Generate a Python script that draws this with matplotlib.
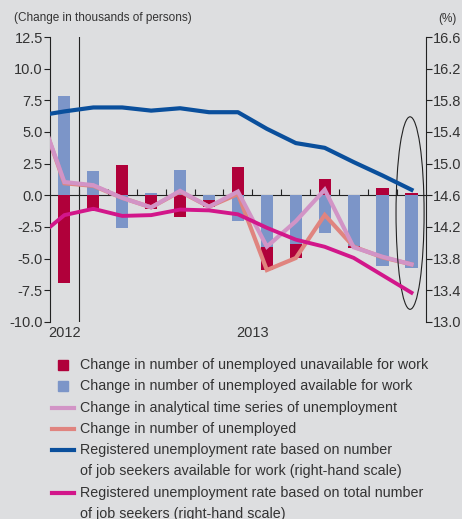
import numpy as np
import matplotlib
matplotlib.use('Agg')
import matplotlib.pyplot as plt
from matplotlib.patches import Ellipse, Rectangle
from matplotlib.lines import Line2D
import matplotlib.transforms as mtransforms

plt.rcParams['font.family'] = ['Liberation Sans', 'DejaVu Sans']

#monthly data, Dec 2012 .. Dec 2013
months = ['Dec', 'Jan', 'Feb', 'Mar', 'Apr', 'May', 'Jun',
          'Jul', 'Aug', 'Sep', 'Oct', 'Nov', 'Dec']
unavailable = [-6.9, -1.2, 2.4, -1.1, -1.7, -0.5, 2.2, -1.8, -1.1, 1.3, -0.15, 0.6, 0.2]
available = [7.85, 1.95, -2.6, 0.15, 2.0, -0.4, -2.0, -4.1, -3.85, -3.0, -4.0, -5.55, -5.7]

#lines carry one extra point for Nov 2012 (left of the axis, clipped)
analytical = [7.45, 1.05, 0.8, -0.2, -0.95, 0.35, -0.9, 0.3, -4.05, -2.05, 0.45, -4.1, -4.85, -5.45]
unemployed = [7.45, 0.95, 0.75, -0.2, -0.95, 0.3, -0.9, 0.1, -5.9, -4.95, -1.55, -4.05, -4.9, -5.45]
rate_available = [15.60, 15.66, 15.71, 15.71, 15.67, 15.70, 15.65, 15.65,
                  15.44, 15.26, 15.20, 15.02, 14.85, 14.67]
rate_total = [14.05, 14.35, 14.43, 14.34, 14.35, 14.42, 14.41, 14.36,
              14.19, 14.04, 13.95, 13.81, 13.59, 13.37]

years = ['2012', '2013']

c_red = '#b0003a'
c_bar = '#7c95c8'
c_pink = '#d294c6'
c_salmon = '#e0847f'
c_blue = '#0a4f9c'
c_mag = '#d2168a'
bg = '#dddee0'
txt = '#333333'
dark = '#222222'

fig = plt.figure(figsize=(4.62, 5.19), dpi=100, facecolor=bg)
ax = fig.add_axes([0.108, 0.3796, 0.814, 0.5491])
ax.set_facecolor(bg)
ax2 = ax.twinx()

n = len(months)
x = np.arange(n) + 0.5
xl = np.arange(-1, n) + 0.5

una = np.array(unavailable)
ava = np.array(available)
#same-sign bars stack, opposite-sign bars both start at zero
red_bottom = np.where(np.sign(una) == np.sign(ava), ava, 0)

ax.bar(x, ava, width=0.42, color=c_bar, zorder=2)
ax.bar(x, una, width=0.42, bottom=red_bottom, color=c_red, zorder=2)
ax.plot(xl, unemployed, color=c_salmon, lw=3, zorder=3, solid_joinstyle='miter')
ax.plot(xl, analytical, color=c_pink, lw=3, zorder=4, solid_joinstyle='miter')

ax2.plot(xl, rate_available, color=c_blue, lw=3, zorder=5)
ax2.plot(xl, rate_total, color=c_mag, lw=2.8, zorder=5)

ax.set_xlim(0, n)
ax.set_ylim(-10, 12.5)
ax2.set_ylim(13.0, 16.6)
left_ticks = np.arange(-10, 12.6, 2.5)
right_ticks = np.arange(13.0, 16.61, 0.4)
ax.set_yticks(left_ticks)
ax.set_yticklabels([f'{v:.1f}' for v in left_ticks])
ax2.set_yticks(right_ticks)
ax2.set_yticklabels([f'{v:.1f}' for v in right_ticks])

#spines: left/right scales, zero line with small month ticks
ax.spines['top'].set_visible(False)
ax.spines['right'].set_visible(False)
for s in ('top', 'bottom', 'left'):
    ax2.spines[s].set_visible(False)
ax.spines['bottom'].set_position(('data', 0))
ax.spines['bottom'].set_zorder(1)
ax.set_xticks(np.arange(1, n))
ax.set_xticklabels([])
ax.tick_params(axis='x', direction='in', length=4, width=0.8, color=dark)
for a in (ax, ax2):
    a.tick_params(axis='y', length=4, width=0.8, color=dark,
                  labelsize=10.5, labelcolor=txt, pad=1)
for s in ('left', 'bottom'):
    ax.spines[s].set_color(dark)
    ax.spines[s].set_linewidth(0.8)
ax2.spines['right'].set_color(dark)
ax2.spines['right'].set_linewidth(0.8)

#year separator and labels
ax.axvline(1, color=dark, lw=0.8, zorder=1)
trans = mtransforms.blended_transform_factory(ax.transData, ax.transAxes)
ax.text(0.5, -0.015, years[0], transform=trans, ha='center', va='top',
        fontsize=10.5, color=txt)
ax.text((1 + n) / 2, -0.015, years[1], transform=trans, ha='center', va='top',
        fontsize=10.5, color=txt)

ax.add_patch(Ellipse((n - 0.55, -1.4), 0.97, 15.2, fill=False,
                     edgecolor=dark, lw=0.8, zorder=6, clip_on=False))

W, H = 462, 519
fig.text(14 / W, 1 - 18 / H, '(Change in thousands of persons)', fontsize=8.5,
         color=txt, ha='left', va='center')
fig.text(447 / W, 1 - 19 / H, '(%)', fontsize=8.5, color=txt,
         ha='center', va='center')

#legend drawn by hand so handles line up with the first text row
entries = [
    ('box', c_red, 'Change in number of unemployed unavailable for work'),
    ('box', c_bar, 'Change in number of unemployed available for work'),
    ('line', c_pink, 'Change in analytical time series of unemployment'),
    ('line', c_salmon, 'Change in number of unemployed'),
    ('line', c_blue, 'Registered unemployment rate based on number\nof job seekers available for work (right-hand scale)'),
    ('line', c_mag, 'Registered unemployment rate based on total number\nof job seekers (right-hand scale)'),
]
row = 21.3
y = 365
for kind, col, label in entries:
    if kind == 'box':
        fig.patches.append(Rectangle((58 / W, 1 - (y + 5) / H), 10 / W, 10 / H,
                                     transform=fig.transFigure, color=col))
    else:
        fig.lines.append(Line2D([52 / W, 74 / W], [1 - y / H, 1 - y / H],
                                transform=fig.transFigure, color=col, lw=3))
    for i, part in enumerate(label.split('\n')):
        fig.text(80 / W, 1 - (y + i * row) / H, part, fontsize=10.3, color=txt,
                 ha='left', va='center')
    y += row * (label.count('\n') + 1)

fig.savefig('out.png', dpi=100, facecolor=bg)
